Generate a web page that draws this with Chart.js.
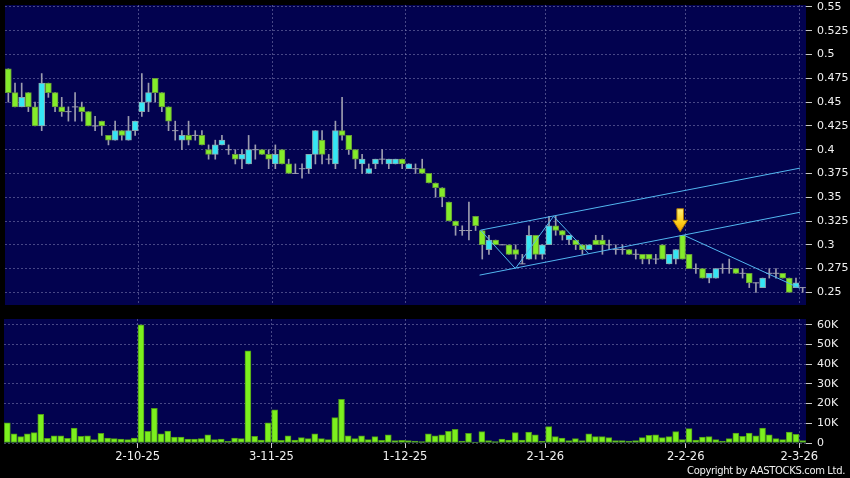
<!DOCTYPE html>
<html><head><meta charset="utf-8">
<script src="https://cdn.jsdelivr.net/npm/chart.js@4.4.1/dist/chart.umd.min.js"></script>
<style>
html,body{margin:0;padding:0;background:#000;width:850px;height:478px;overflow:hidden;}
#pc{position:absolute;left:0;top:0;}
#vc{position:absolute;left:0;top:310px;}
#copy{position:absolute;right:5px;top:466px;font-family:"DejaVu Sans";font-size:10px;line-height:10px;letter-spacing:-0.35px;color:#f0f0f0;white-space:nowrap;}
</style></head>
<body>
<canvas id="pc" width="850" height="310"></canvas>
<canvas id="vc" width="850" height="168"></canvas>
<div id="copy">Copyright by AASTOCKS.com Ltd.</div>
<script>
// ---- data (one entry per trading day) ----
const opens = [0.485,0.46,0.445,0.46,0.445,0.425,0.47,0.46,0.445,0.44,
0.445,0.445,0.44,0.425,0.43,0.415,0.41,0.42,0.41,0.42,
0.44,0.45,0.475,0.46,0.445,0.42,0.41,0.415,0.415,0.415,
0.40,0.395,0.405,0.40,0.395,0.39,0.385,0.40,0.40,0.395,
0.385,0.40,0.385,0.375,0.38,0.38,0.395,0.41,0.39,0.385,
0.42,0.415,0.40,0.385,0.375,0.385,0.39,0.385,0.385,0.39,
0.38,0.38,0.38,0.375,0.365,0.36,0.345,0.325,0.315,0.315,
0.33,0.315,0.295,0.305,0.30,0.30,0.295,0.28,0.285,0.31,
0.29,0.30,0.32,0.315,0.305,0.305,0.30,0.295,0.305,0.305,
0.30,0.295,0.295,0.295,0.29,0.29,0.29,0.285,0.30,0.28,
0.285,0.31,0.29,0.275,0.275,0.265,0.265,0.275,0.275,0.275,
0.27,0.27,0.26,0.255,0.27,0.27,0.27,0.265,0.255,0.255];
const highs = [0.485,0.47,0.47,0.46,0.45,0.48,0.47,0.46,0.455,0.445,
0.46,0.45,0.44,0.435,0.43,0.415,0.43,0.42,0.435,0.43,
0.48,0.47,0.475,0.46,0.445,0.43,0.42,0.43,0.42,0.42,
0.405,0.41,0.415,0.405,0.40,0.40,0.415,0.405,0.40,0.40,
0.405,0.40,0.39,0.385,0.385,0.395,0.42,0.42,0.395,0.43,
0.455,0.415,0.40,0.395,0.385,0.39,0.40,0.39,0.39,0.39,
0.385,0.385,0.39,0.375,0.365,0.36,0.345,0.325,0.32,0.345,
0.33,0.315,0.31,0.305,0.30,0.30,0.30,0.29,0.32,0.31,
0.30,0.33,0.33,0.315,0.31,0.305,0.30,0.30,0.31,0.31,
0.305,0.30,0.30,0.295,0.295,0.29,0.29,0.29,0.30,0.29,
0.295,0.31,0.29,0.28,0.275,0.27,0.275,0.28,0.285,0.275,
0.275,0.27,0.26,0.265,0.275,0.275,0.27,0.265,0.265,0.255];
const lows = [0.45,0.445,0.445,0.44,0.425,0.42,0.455,0.44,0.435,0.43,
0.43,0.43,0.425,0.42,0.415,0.405,0.41,0.41,0.41,0.415,
0.435,0.44,0.45,0.44,0.42,0.41,0.40,0.405,0.41,0.405,
0.39,0.39,0.405,0.395,0.385,0.38,0.385,0.39,0.395,0.38,
0.38,0.385,0.375,0.375,0.37,0.375,0.385,0.385,0.385,0.38,
0.41,0.395,0.38,0.375,0.375,0.38,0.385,0.38,0.385,0.38,
0.38,0.375,0.375,0.365,0.35,0.34,0.325,0.31,0.31,0.305,
0.315,0.285,0.29,0.30,0.30,0.29,0.285,0.28,0.285,0.285,
0.285,0.30,0.31,0.305,0.30,0.295,0.29,0.295,0.30,0.29,
0.295,0.29,0.29,0.29,0.285,0.28,0.28,0.28,0.285,0.28,
0.28,0.285,0.275,0.27,0.265,0.26,0.265,0.27,0.27,0.27,
0.265,0.255,0.25,0.255,0.265,0.265,0.265,0.25,0.255,0.25];
const closes = [0.46,0.445,0.455,0.445,0.425,0.47,0.46,0.445,0.44,0.44,
0.445,0.44,0.425,0.425,0.425,0.41,0.42,0.415,0.42,0.43,
0.45,0.46,0.46,0.445,0.43,0.42,0.415,0.41,0.415,0.405,
0.395,0.405,0.41,0.40,0.39,0.395,0.40,0.40,0.395,0.39,
0.395,0.385,0.375,0.375,0.38,0.395,0.42,0.395,0.39,0.42,
0.415,0.40,0.39,0.39,0.38,0.39,0.39,0.39,0.39,0.385,
0.385,0.38,0.375,0.365,0.36,0.35,0.325,0.32,0.315,0.315,
0.32,0.30,0.305,0.30,0.30,0.29,0.29,0.28,0.31,0.29,
0.30,0.32,0.315,0.31,0.31,0.30,0.295,0.30,0.30,0.30,
0.30,0.295,0.295,0.29,0.29,0.285,0.285,0.285,0.285,0.29,
0.295,0.285,0.275,0.275,0.265,0.27,0.275,0.275,0.275,0.27,
0.27,0.26,0.26,0.265,0.27,0.27,0.265,0.25,0.26,0.255];
// volume in thousands of shares
const volumesK = [10.2,4.6,3.2,4.6,5.3,14.6,2.4,3.7,3.6,2.4,
7.6,3.4,3.6,1.7,4.9,2.5,2.2,2.0,1.7,2.5,
60,5.9,17.6,4.6,6.1,3.0,3.0,2.0,2.0,2.2,
4.2,1.7,2.0,0.8,2.5,2.2,46.8,3.4,1.5,10.3,
16.9,1.4,3.7,1.5,2.7,2.2,4.7,2.2,1.7,12.9,
22.2,3.7,2.2,3.6,1.7,3.2,1.4,4.2,1.2,1.4,
1.2,1.0,0.7,4.6,3.7,4.2,5.9,6.9,1.0,4.9,
0.5,5.8,1.2,0.7,2.0,1.5,5.3,1.5,5.6,4.1,
1.0,8.3,3.2,2.5,1.2,2.2,1.2,4.7,3.2,3.2,
2.7,1.2,1.2,1.0,1.2,2.7,3.9,4.1,2.7,3.2,
5.8,1.7,7.3,1.5,3.0,3.2,1.7,1.0,2.2,5.1,
3.4,5.1,3.6,7.6,4.2,2.2,1.7,5.6,4.4,1.2];
// date axis: day index of the first trading day of each month and its label
const dateTickIndex = [20, 40, 60, 81, 102, 119];
const dateTickLabels = ['2-10-25','3-11-25','1-12-25','2-1-26','2-2-26','2-3-26'];
const priceTicks = [0.25,0.275,0.3,0.325,0.35,0.375,0.4,0.425,0.45,0.475,0.5,0.525,0.55];
const priceTickLabels = ['0.25','0.275','0.3','0.325','0.35','0.375','0.4','0.425','0.45','0.475','0.5','0.525','0.55'];
const volumeTicks = [0,10000,20000,30000,40000,50000,60000];
const volumeTickLabels = ['0','10K','20K','30K','40K','50K','60K'];
// drawn studies (day index, price)
const channelUpper = [[70.73,0.3154],[118.6,0.3806]];
const channelLower = [[70.6,0.2681],[118.6,0.3342]];
const zigzag = [[70.73,0.3154],[75.96,0.2751],[81.69,0.330],[86.93,0.2908]];
const downTrend = [[101.25,0.3099],[118.6,0.2542]];
const arrowMarks = [[100.65,0.3137]];

// ---- styles ----
const NAVY = '#02024f';
const GRID = 'rgba(140,140,190,0.5)';
const UP_FILL = '#35e6f4', UP_EDGE = '#8aa6ae';
const DN_FILL = '#84ec2a', DN_EDGE = '#669a3a';
const WICK = '#9c9cae';
const TREND = '#52b6f0';
const XFONT = {family:'DejaVu Sans', size:11.5};
const YFONT = {family:'DejaVu Sans', size:11};
const TXT = '#f0f0f0';

const N = opens.length;
const days = opens.map((_, i) => i);
const toPts = arr => arr.map(p => ({x:p[0], y:p[1]}));

const wickData = days.map(i => ({x:i, y:[lows[i], highs[i]]}));
const bodyDays = days.filter(i => opens[i] !== closes[i]);
const bodyData = bodyDays.map(i => ({x:i, y:[Math.min(opens[i],closes[i]), Math.max(opens[i],closes[i])]}));
const bodyFill = bodyDays.map(i => closes[i] > opens[i] ? UP_FILL : DN_FILL);
const bodyEdge = bodyDays.map(i => closes[i] > opens[i] ? UP_EDGE : DN_EDGE);
const dojiData = days.filter(i => opens[i] === closes[i]).map(i => ({x:i, y:closes[i]}));
const volData = days.map(i => ({x:i, y:volumesK[i]*1000}));

const panelBg = {id:'panelBg', beforeDraw(c){
  const a = c.chartArea, ctx = c.ctx;
  ctx.save(); ctx.fillStyle = NAVY; ctx.fillRect(a.left, a.top, a.right-a.left, a.bottom-a.top); ctx.restore();
}};
const arrowPlugin = {id:'arrowMark', afterDatasetsDraw(c){
  const ctx = c.ctx;
  arrowMarks.forEach(m => {
    const x = c.scales.x.getPixelForValue(m[0]);
    const y = c.scales.y.getPixelForValue(m[1]);
    const g = ctx.createLinearGradient(0, y-23, 0, y);
    g.addColorStop(0, '#fff27a'); g.addColorStop(0.55, '#ffd21e'); g.addColorStop(1, '#f0a000');
    ctx.save();
    ctx.beginPath();
    ctx.moveTo(x-3.3, y-23); ctx.lineTo(x+3.3, y-23); ctx.lineTo(x+3.3, y-11.5);
    ctx.lineTo(x+7.3, y-11.5); ctx.lineTo(x, y); ctx.lineTo(x-7.3, y-11.5); ctx.lineTo(x-3.3, y-11.5);
    ctx.closePath();
    ctx.fillStyle = g; ctx.fill();
    ctx.lineWidth = 1; ctx.strokeStyle = '#b07a00'; ctx.stroke();
    ctx.restore();
  });
}};

function xScale(showLabels){
  return {
    type:'linear', min:-0.5, max:N-0.5, offset:false,
    afterBuildTicks: s => { s.ticks = dateTickIndex.map(v => ({value: v-0.5})); },
    afterFit: s => { s.height = showLabels ? 35 : 4; s.paddingLeft = 0; s.paddingRight = 0; },
    grid: {offset:false, color: GRID, drawTicks: showLabels, tickLength: 5, tickColor:'#c8c8c8', tickBorderDash: []},
    border: {display:false, dash:[2,2]},
    ticks: {display: showLabels, autoSkip:false, maxRotation:0, padding:2, color:TXT, font:XFONT,
      callback: (v, i) => dateTickLabels[i]}
  };
}
function yScale(min, max, ticks, labels){
  return {
    position:'right', min, max,
    afterBuildTicks: s => { s.ticks = ticks.map(v => ({value:v})); },
    afterFit: s => { s.width = 44; s.paddingTop = 0; s.paddingBottom = 0; },
    grid: {color: GRID, drawTicks:true, tickLength:6, tickColor:'#c8c8c8', tickBorderDash: []},
    border: {display:false, dash:[2,2]},
    ticks: {color:TXT, font:YFONT, padding:5, callback: (v, i) => labels[i]}
  };
}
const common = {responsive:false, animation:false, events:[],
  plugins:{legend:{display:false}, tooltip:{enabled:false}}};

new Chart(document.getElementById('pc'), {
  type:'bar',
  data:{datasets:[
    {type:'line', data:toPts(channelUpper), borderColor:TREND, borderWidth:1, pointRadius:0, order:0},
    {type:'line', data:toPts(channelLower), borderColor:TREND, borderWidth:1, pointRadius:0, order:0},
    {type:'line', data:toPts(zigzag), borderColor:TREND, borderWidth:1, pointRadius:0, order:0},
    {type:'line', data:toPts(downTrend), borderColor:TREND, borderWidth:1, pointRadius:0, order:0},
    {type:'line', data:dojiData, showLine:false, pointStyle:'line', pointRadius:3.2, pointBorderColor:WICK, pointBorderWidth:1, order:1},
    {type:'bar', data:bodyData, backgroundColor:bodyFill, borderColor:bodyEdge, borderWidth:1, borderSkipped:false, barThickness:6, grouped:false, order:2},
    {type:'bar', data:wickData, backgroundColor:WICK, borderWidth:0, barThickness:1, grouped:false, order:3}
  ]},
  options:Object.assign({}, common, {
    layout:{padding:{left:4, top:4, right:0, bottom:0}},
    scales:{x:xScale(false), y:yScale(0.2367, 0.5521, priceTicks, priceTickLabels)}
  }),
  plugins:[panelBg, arrowPlugin]
});

new Chart(document.getElementById('vc'), {
  type:'bar',
  data:{datasets:[
    {data:volData, backgroundColor:'#7cf01e', borderColor:'#4f9c16', borderWidth:1, borderSkipped:false, barThickness:6, grouped:false}
  ]},
  options:Object.assign({}, common, {
    layout:{padding:{left:4, top:9, right:0, bottom:0}},
    scales:{x:xScale(true), y:yScale(0, 63000, volumeTicks, volumeTickLabels)}
  }),
  plugins:[panelBg]
});
</script>
</body></html>
